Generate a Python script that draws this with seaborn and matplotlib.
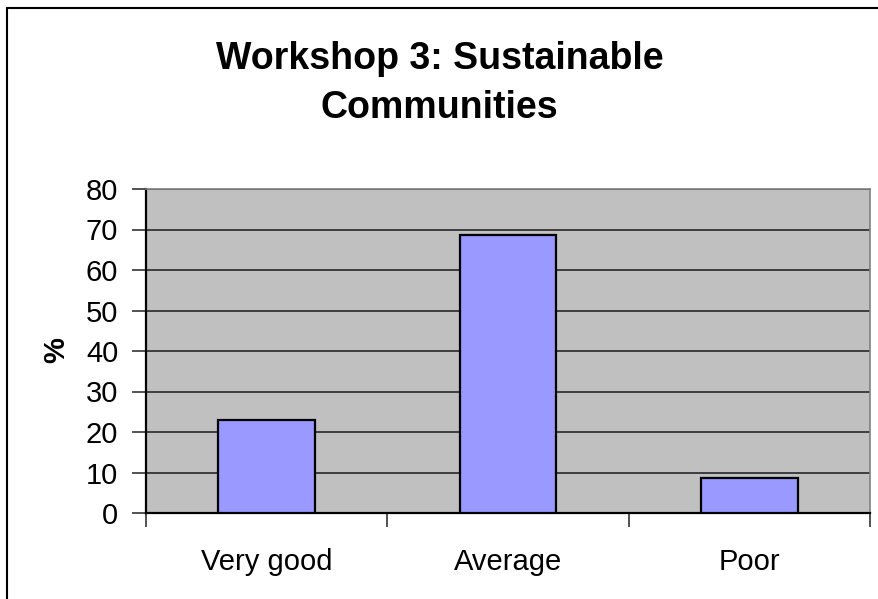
import matplotlib
matplotlib.use("Agg")
import matplotlib.pyplot as plt
from matplotlib.lines import Line2D
import seaborn as sns
import pandas as pd

# data (share of responses, %)
categories = ["Very good", "Average", "Poor"]
percent = [22.86, 68.57, 8.57]
y_ticks = [0, 10, 20, 30, 40, 50, 60, 70, 80]

df = pd.DataFrame({"rating": categories, "pct": percent})

sns.set_theme(style="white")
plt.rcParams["font.family"] = ["Liberation Sans", "DejaVu Sans"]
plt.rcParams["text.color"] = "black"

fig = plt.figure(figsize=(8.79, 5.99), dpi=100)
ax = fig.add_axes([146 / 879, 1 - 513 / 599, (870 - 146) / 879, (513 - 189) / 599])
ax.set_facecolor("#C0C0C0")

sns.barplot(data=df, x="rating", y="pct", color="#9999FF", saturation=1,
            edgecolor="black", linewidth=1.6, width=0.4, ax=ax, zorder=3)

ax.set_ylim(0, 80)
ax.set_xlim(-0.5, 2.5)
ax.set_yticks(y_ticks)
ax.yaxis.grid(True, color="#333333", linewidth=1.3, zorder=0)
ax.set_axisbelow(True)

# category boundary ticks like Excel
ax.set_xticks([-0.5, 0.5, 1.5, 2.5], minor=True)
ax.tick_params(axis="x", which="minor", bottom=True, length=10, width=1.2,
               color="#333333", direction="out")
ax.tick_params(axis="x", which="major", bottom=True, length=0, pad=25,
               labelsize=21, labelcolor="black")
ax.tick_params(axis="y", length=10, width=1.2, color="#333333", direction="out",
               pad=10, labelsize=21, labelcolor="black", left=True)

for side in ["left", "bottom"]:
    ax.spines[side].set_color("black")
    ax.spines[side].set_linewidth(1.6)
for side in ["top", "right"]:
    ax.spines[side].set_color("#808080")
    ax.spines[side].set_linewidth(1.2)

ax.set_xlabel("")
ax.set_ylabel("%", fontsize=21, fontweight="bold", color="black")
ax.yaxis.set_label_coords((56 - 146) / 724, (513 - 350) / 324)
ax.yaxis.label.set_verticalalignment("center")

fig.text(0.5, 1 - 41 / 599, "Workshop 3: Sustainable\nCommunities", ha="center", va="top",
         fontsize=27, fontweight="bold", color="black", linespacing=1.45)

# chart frame (only left and top edges visible)
fig.add_artist(Line2D([7 / 879, 7 / 879], [0, 1 - 8 / 599], transform=fig.transFigure,
                      color="black", linewidth=1.5))
fig.add_artist(Line2D([7 / 879, 1], [1 - 8 / 599, 1 - 8 / 599], transform=fig.transFigure,
                      color="black", linewidth=1.5))

fig.savefig("out.png", dpi=100, facecolor="white")
